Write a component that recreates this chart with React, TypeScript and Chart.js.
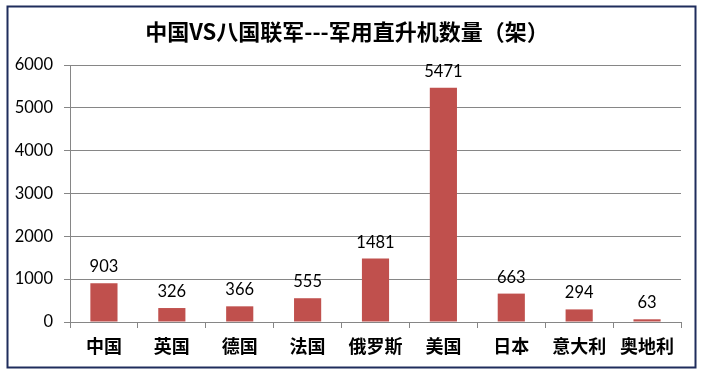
import React, { useEffect, useRef } from "react";
import { Chart, registerables } from "chart.js";

Chart.register(...registerables);

const categories = ["中国", "英国", "德国", "法国", "俄罗斯", "美国", "日本", "意大利", "奥地利"];
const helicopterCounts = [903, 326, 366, 555, 1481, 5471, 663, 294, 63];
const yTicks = [0, 1000, 2000, 3000, 4000, 5000, 6000];
const titleText = "中国VS八国联军---军用直升机数量（架）";

const W = 703;
const H = 374;

const framePlugin = {
  id: "framePlugin",
  beforeDraw(chart: any) {
    const ctx = chart.ctx;
    ctx.save();
    ctx.fillStyle = "#ffffff";
    ctx.fillRect(0, 0, chart.width, chart.height);
    ctx.restore();
  },
  afterDraw(chart: any) {
    const ctx = chart.ctx;
    ctx.save();
    ctx.strokeStyle = "#1F2D5C";
    ctx.lineWidth = 2;
    ctx.strokeRect(7.5, 6.5, 688, 361);
    ctx.fillStyle = "#000000";
    ctx.font = "bold 22px 'Noto Sans CJK SC', sans-serif";
    ctx.textAlign = "center";
    ctx.textBaseline = "middle";
    ctx.fillText(titleText, 347, 32);
    ctx.restore();
  },
};

const valueLabelPlugin = {
  id: "valueLabelPlugin",
  afterDatasetsDraw(chart: any) {
    const ctx = chart.ctx;
    const meta = chart.getDatasetMeta(0);
    const data = chart.data.datasets[0].data as number[];
    ctx.save();
    ctx.fillStyle = "#000000";
    ctx.font = "16.5px Lato, sans-serif";
    ctx.textAlign = "center";
    ctx.textBaseline = "alphabetic";
    meta.data.forEach((bar: any, i: number) => {
      ctx.fillText(String(data[i]), bar.x, bar.y - 11);
    });
    ctx.restore();
  },
};

export default function App() {
  const ref = useRef<HTMLCanvasElement | null>(null);

  useEffect(() => {
    document.body.style.margin = "0";
    if (!ref.current) return;
    const chart = new Chart(ref.current, {
      type: "bar",
      data: {
        labels: categories,
        datasets: [
          {
            data: helicopterCounts,
            backgroundColor: "#C0504D",
            barPercentage: 0.4,
            categoryPercentage: 1,
          },
        ],
      },
      options: {
        animation: false,
        responsive: false,
        maintainAspectRatio: false,
        devicePixelRatio: 1,
        layout: { padding: { left: 0, right: 22, top: 65, bottom: 0 } },
        plugins: {
          legend: { display: false },
          title: { display: false },
          tooltip: { enabled: false },
        },
        scales: {
          x: {
            grid: {
              display: true,
              drawOnChartArea: false,
              drawTicks: true,
              tickLength: 6,
              color: "#868686",
              offset: true,
            },
            border: { color: "#868686", width: 1 },
            ticks: {
              color: "#000000",
              font: { family: "'Noto Sans CJK SC', sans-serif", size: 18, weight: "bold" },
              padding: 7,
              maxRotation: 0,
              autoSkip: false,
            },
            afterFit(scale: any) {
              scale.height = 52;
            },
          },
          y: {
            min: 0,
            max: 6000,
            afterBuildTicks(scale: any) {
              scale.ticks = yTicks.map((v) => ({ value: v }));
            },
            grid: {
              color: "#868686",
              drawTicks: true,
              tickLength: 6,
            },
            border: { color: "#868686", width: 1 },
            ticks: {
              color: "#000000",
              font: { family: "Lato, sans-serif", size: 16.5 },
              padding: 11,
              callback: (v: any) => String(v),
            },
            afterFit(scale: any) {
              scale.width = 70;
            },
          },
        },
      },
      plugins: [framePlugin, valueLabelPlugin],
    });
    return () => chart.destroy();
  }, []);

  return (
    <div style={{ position: "absolute", left: 0, top: 0, width: W, height: H }}>
      <canvas ref={ref} width={W} height={H} style={{ width: W, height: H, display: "block" }} />
    </div>
  );
}
